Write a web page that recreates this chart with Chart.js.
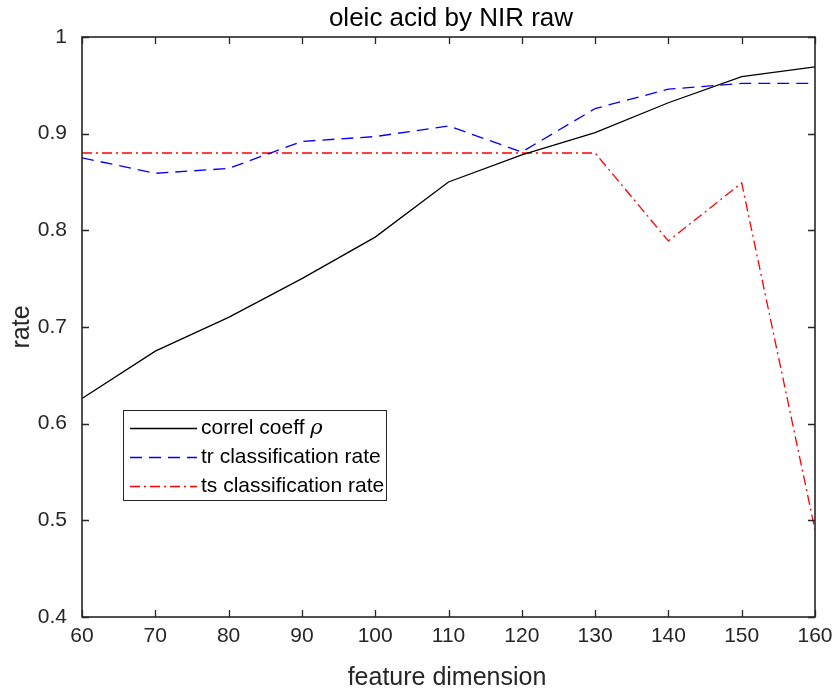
<!DOCTYPE html>
<html>
<head>
<meta charset="utf-8">
<script src="https://cdn.jsdelivr.net/npm/chart.js@4/dist/chart.umd.min.js"></script>
<style>
  html, body { margin: 0; padding: 0; background: #fff; }
  #wrap { width: 835px; height: 693px; }
</style>
</head>
<body>
<div id="wrap"><canvas id="chart" width="835" height="693"></canvas></div>
<script>
const dims = [60, 70, 80, 90, 100, 110, 120, 130, 140, 150, 160]
const correlCoeff = [0.626, 0.675, 0.710, 0.750, 0.793, 0.850, 0.878, 0.901, 0.932, 0.959, 0.969]
const trRate = [0.875, 0.859, 0.864, 0.892, 0.897, 0.908, 0.881, 0.926, 0.946, 0.952, 0.952]
const tsRate = [0.880, 0.880, 0.880, 0.880, 0.880, 0.880, 0.880, 0.880, 0.789, 0.849, 0.490]
const xTicks = [60, 70, 80, 90, 100, 110, 120, 130, 140, 150, 160]
const yTicks = [0.4, 0.5, 0.6, 0.7, 0.8, 0.9, 1]
const seriesNames = ['correl coeff ', 'tr classification rate', 'ts classification rate']
const seriesColors = ['#000000', '#0000ff', '#ff0000']
const seriesDash = [[], [12, 7], [10, 4, 2, 4]]

const axisColor = '#262626'
const fontFamily = '"Liberation Sans", Arial, Helvetica, sans-serif'

const toPoints = (ys) => dims.map((x, i) => ({ x: x, y: ys[i] }))

// MATLAB-style box, inward ticks, labels and legend
const boxPlugin = {
  id: 'box',
  afterDraw(chart) {
    const { ctx, chartArea: a, scales } = chart
    const xs = scales.x, ys = scales.y
    ctx.save()
    ctx.strokeStyle = axisColor
    ctx.lineWidth = 1.6
    ctx.strokeRect(a.left, a.top, a.right - a.left, a.bottom - a.top)

    ctx.lineWidth = 1.3
    ctx.beginPath()
    xTicks.forEach(v => {
      const px = Math.round(xs.getPixelForValue(v)) + 0.5
      ctx.moveTo(px, a.bottom); ctx.lineTo(px, a.bottom - 7)
      ctx.moveTo(px, a.top); ctx.lineTo(px, a.top + 7)
    })
    yTicks.forEach(v => {
      const py = Math.round(ys.getPixelForValue(v)) + 0.5
      ctx.moveTo(a.left, py); ctx.lineTo(a.left + 7, py)
      ctx.moveTo(a.right, py); ctx.lineTo(a.right - 7, py)
    })
    ctx.stroke()

    // titles
    ctx.fillStyle = '#000'
    ctx.textAlign = 'center'
    ctx.textBaseline = 'alphabetic'
    ctx.font = '26px ' + fontFamily
    ctx.fillText('oleic acid by NIR raw', 451, 26)
    ctx.fillStyle = axisColor
    ctx.font = '25px ' + fontFamily
    ctx.fillText('feature dimension', 447, 685)
    ctx.save()
    ctx.translate(29, (a.top + a.bottom) / 2)
    ctx.rotate(-Math.PI / 2)
    ctx.fillText('rate', 0, 0)
    ctx.restore()

    // legend
    const lx = 123.5, ly = 410.5, lw = 263, lh = 90
    ctx.fillStyle = '#fff'
    ctx.fillRect(lx, ly, lw, lh)
    ctx.strokeStyle = axisColor
    ctx.lineWidth = 1
    ctx.strokeRect(lx, ly, lw, lh)
    const rows = [428, 457, 486]
    ctx.textBaseline = 'middle'
    seriesNames.forEach((name, i) => {
      const y = rows[i] + 0.5
      ctx.save()
      ctx.strokeStyle = seriesColors[i]
      ctx.lineWidth = 1.3
      ctx.setLineDash(seriesDash[i])
      ctx.beginPath()
      ctx.moveTo(130, y); ctx.lineTo(197, y)
      ctx.stroke()
      ctx.restore()
      ctx.fillStyle = '#000'
      ctx.textAlign = 'left'
      ctx.font = '21px ' + fontFamily
      ctx.fillText(name, 201, rows[i])
      if (i === 0) {
        const w = ctx.measureText(name).width
        ctx.font = 'italic 21px "DejaVu Serif", "Liberation Serif", serif'
        ctx.fillText('ρ', 201 + w, rows[i] + 1)
      }
    })
    ctx.restore()
  }
}

const values = [correlCoeff, trRate, tsRate]

new Chart(document.getElementById('chart'), {
  type: 'line',
  data: {
    datasets: values.map((ys, i) => ({
      label: seriesNames[i],
      data: toPoints(ys),
      borderColor: seriesColors[i],
      borderWidth: 1.3,
      borderDash: seriesDash[i],
      pointRadius: 0,
      tension: 0
    }))
  },
  options: {
    responsive: false,
    animation: false,
    layout: { padding: { left: 0, right: 20, top: 37, bottom: 0 } },
    plugins: {
      legend: { display: false },
      title: { display: false },
      tooltip: { enabled: false }
    },
    scales: {
      x: {
        type: 'linear',
        min: 60,
        max: 160,
        afterBuildTicks: (scale) => { scale.ticks = xTicks.map(v => ({ value: v })) },
        afterFit: (scale) => {
          scale.height = 76
          scale.paddingLeft = 0
          scale.paddingRight = 0
        },
        grid: { display: false, drawTicks: false },
        border: { display: false },
        ticks: {
          color: axisColor,
          padding: 7,
          maxRotation: 0,
          font: { family: fontFamily, size: 21 },
          callback: (v) => String(v)
        }
      },
      y: {
        type: 'linear',
        min: 0.4,
        max: 1,
        afterBuildTicks: (scale) => { scale.ticks = yTicks.map(v => ({ value: v })) },
        afterFit: (scale) => {
          scale.width = 82
          scale.paddingTop = 0
          scale.paddingBottom = 0
        },
        grid: { display: false, drawTicks: false },
        border: { display: false },
        ticks: {
          color: axisColor,
          padding: 15,
          font: { family: fontFamily, size: 21 },
          callback: (v) => String(Math.round(v * 10) / 10)
        }
      }
    }
  },
  plugins: [boxPlugin]
})
</script>
</body>
</html>
